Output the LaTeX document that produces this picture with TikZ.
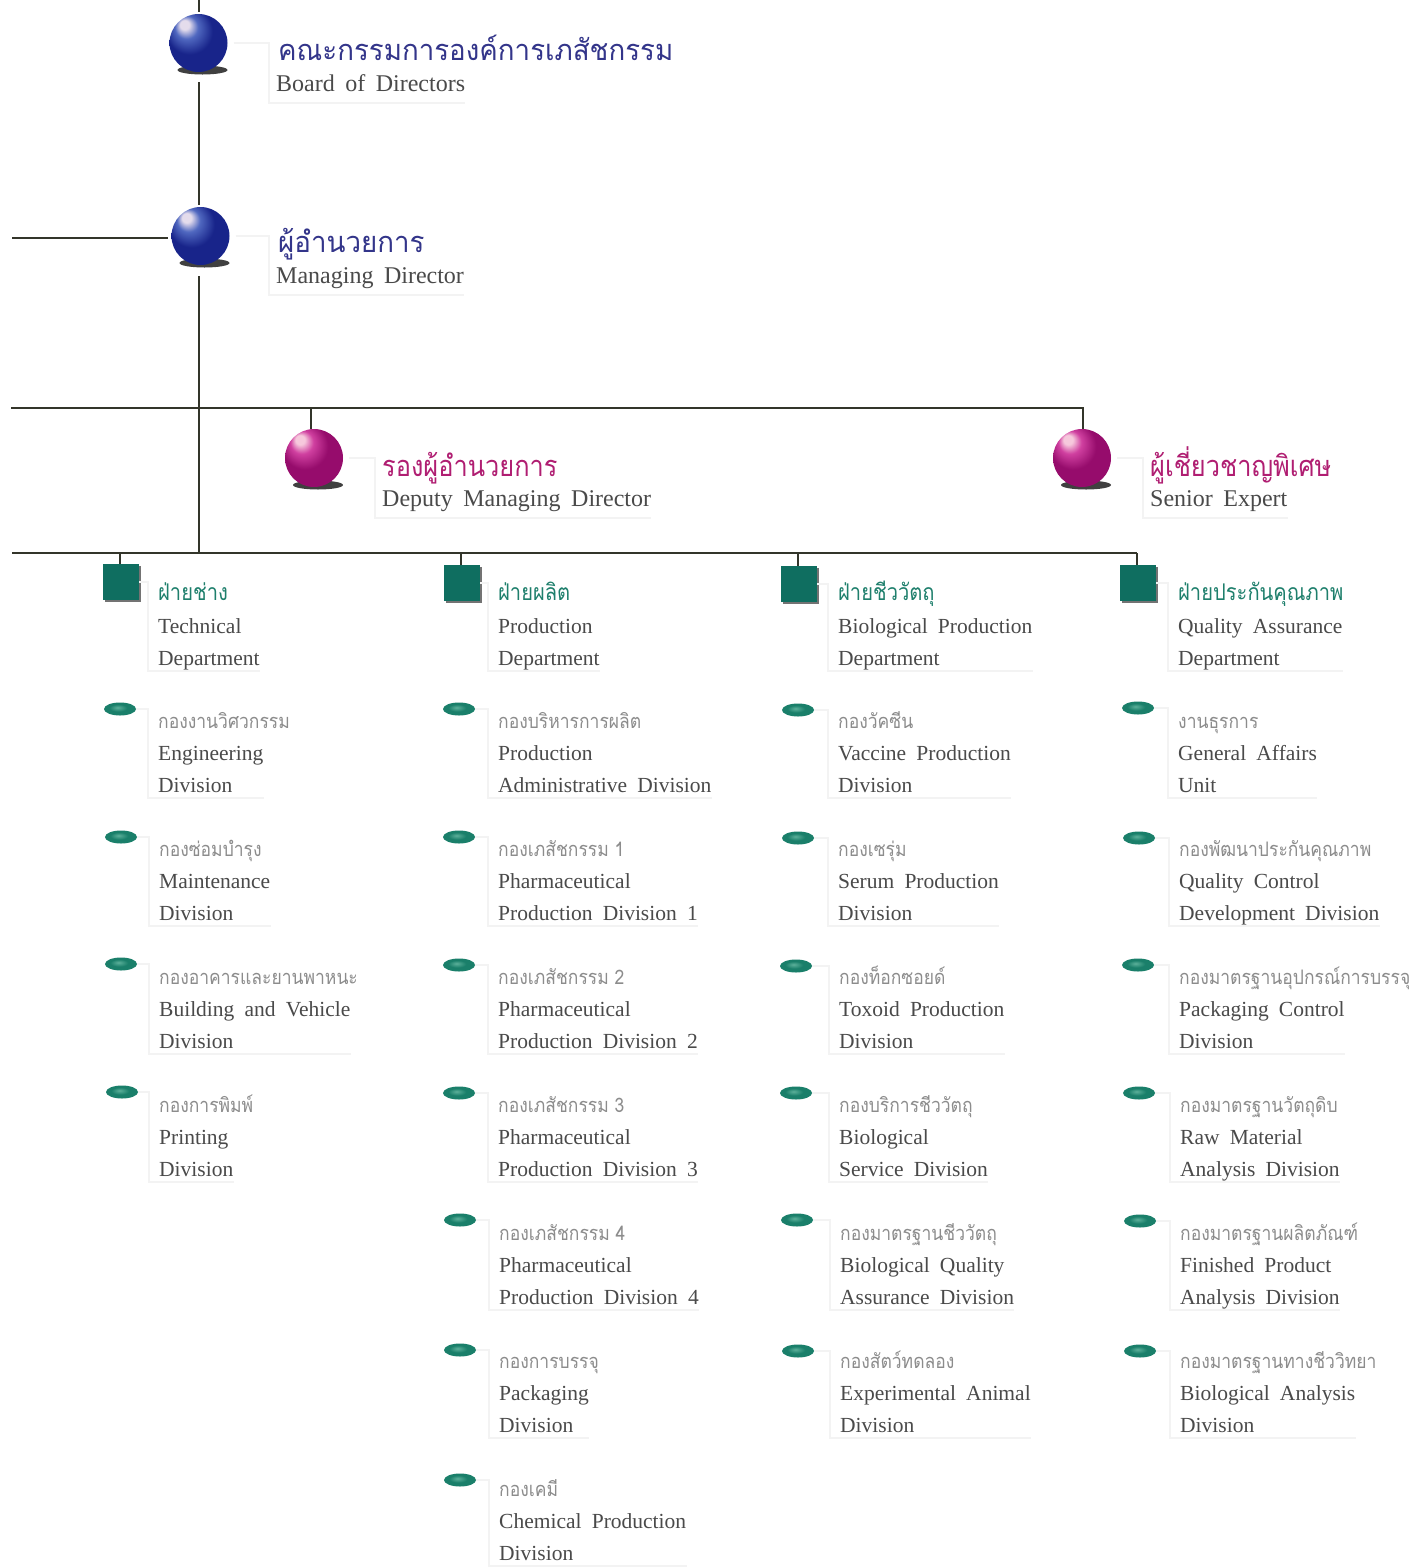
\documentclass[tikz,border=0pt]{standalone}
\usepackage{fontspec}
\setmainfont[WordSpace=1.9]{Liberation Serif}
\newfontfamily\headen[WordSpace=1.75]{Liberation Serif}
\newfontfamily\thaifont[Script=Thai,FakeStretch=0.875]{Loma}
\newfontfamily\thaiwide[Script=Thai,FakeStretch=0.955]{Loma}
\usetikzlibrary{fit,calc,shapes.geometric}
\definecolor{navy}{HTML}{18248A}
\definecolor{navytext}{HTML}{33358A}
\definecolor{plum}{HTML}{960C6C}
\definecolor{plumtext}{HTML}{B01E72}
\definecolor{tealm}{HTML}{0F6E60}
\definecolor{tealtext}{HTML}{1E7F6C}
\definecolor{grayth}{HTML}{8C8C8C}
\definecolor{grayen}{HTML}{4A4A4A}
\definecolor{faint}{HTML}{F3F3F3}
\definecolor{linec}{HTML}{33352A}
\definecolor{navyhi}{HTML}{E4DCEC}
\definecolor{navymid}{HTML}{5068C0}
\definecolor{navydark}{HTML}{0A1250}
\definecolor{plumhi}{HTML}{F6C8DC}
\definecolor{plummid}{HTML}{D040A0}
\definecolor{plumdark}{HTML}{4E0638}
\definecolor{ovalhi}{HTML}{5CB09A}
\definecolor{ovalmid}{HTML}{1A7F6A}
\definecolor{ovaldark}{HTML}{0A4F45}
\pgfdeclareradialshading{navyball}{\pgfpoint{-13bp}{17bp}}{color(0bp)=(navyhi); color(4bp)=(navyhi); color(10bp)=(navymid); color(20bp)=(navy); color(36bp)=(navy); color(50bp)=(navydark)}
\pgfdeclareradialshading{plumball}{\pgfpoint{-13bp}{17bp}}{color(0bp)=(plumhi); color(4bp)=(plumhi); color(10bp)=(plummid); color(20bp)=(plum); color(36bp)=(plum); color(50bp)=(plumdark)}
\pgfdeclareradialshading{ovalball}{\pgfpoint{-4bp}{6bp}}{color(0bp)=(ovalhi); color(14bp)=(ovalmid); color(30bp)=(ovalmid); color(50bp)=(ovaldark)}
\tikzset{
  x=1pt,y=-1pt,
  conn/.style={draw=linec,line width=2.6pt},
  bracket/.style={draw=faint,line width=1.6pt},
  en/.style={anchor=base west,inner sep=0pt,text=grayen,font=\fontsize{21.5}{21.5}\selectfont},
  enhead/.style={anchor=base west,inner sep=0pt,text=grayen,font=\fontsize{24}{24}\headen},
  thnavy/.style={anchor=base west,inner sep=0pt,text=navytext,font=\fontsize{29}{29}\thaiwide},
  thplum/.style={anchor=base west,inner sep=0pt,text=plumtext,font=\fontsize{29}{29}\thaifont},
  thdept/.style={anchor=base west,inner sep=0pt,text=tealtext,font=\fontsize{23}{23}\thaifont},
  thdiv/.style={anchor=base west,inner sep=0pt,text=grayth,font=\fontsize{20}{20}\thaifont},
  ballnode/.style={circle,minimum size=58pt,inner sep=0pt,outer sep=0pt,shading=#1},
  sq/.style={rectangle,minimum size=36pt,inner sep=0pt,outer sep=0pt,fill=tealm},
  oval/.style={ellipse,minimum width=32pt,minimum height=13pt,inner sep=0pt,shading=ovalball}
}
% name, ball x, ball y, shading
\newcommand{\bigball}[4]{%
  \fill[black!75] (#2+4,#3+27) ellipse (25 and 4.5);
  \node[ballnode=#4] (#1) at (#2,#3) {};
}
% name, thai style, thai baseline x, thai baseline y, thai, english x, english baseline y, english
\newcommand{\headtext}[8]{%
  \node[#2] (#1-th) at (#3,#4) {#5};
  \node[enhead] (#1-en) at (#6,#7) {#8};
  \coordinate (#1-c) at (#6-7,#7+12);
  \draw[bracket] ([xshift=6pt]#1.east) -- (#1.east -| #1-c) -- (#1-c) -- (#1-c -| #1-en.east);
}
% name, kind, marker x, marker y, text x, thai baseline, thai, line 1, line 2
\newcommand{\entry}[9]{%
  \ifx#2s
    \fill[black!55] (#3-16,#4-16) rectangle (#3+20,#4+20);
    \node[sq] (#1) at (#3,#4) {};
    \node[thdept] (#1-th) at (#5,#6) {#7};
  \else
    \node[oval] (#1) at (#3,#4) {};
    \node[thdiv] (#1-th) at (#5,#6+1) {#7};
  \fi
  \node[en] (#1-a) at (#5,#6+33) {#8};
  \node[en] (#1-b) at (#5,#6+65) {#9};
  \node[fit=(#1-a)(#1-b),inner sep=0pt] (#1-f) {};
  \coordinate (#1-c) at (#5-10,#6+71);
  \draw[bracket] (#1.east) -- (#1.east -| #1-c) -- (#1-c) -- (#1-c -| #1-f.east);
}
\begin{document}
\begin{tikzpicture}
\useasboundingbox (0,0) rectangle (1411,1567);
\fill[white] (0,0) rectangle (1411,1567);
% free ends
\coordinate (topend) at (199,0);
\coordinate (leftm) at (12,238);
\coordinate (leftd) at (11,408);
\coordinate (rightd) at (1084,408);
\coordinate (leftp) at (12,553);
\coordinate (rightp) at (1137,553);
\coordinate (juncp) at (199,553);
\coordinate (tickdm) at (311,408);
\coordinate (tickse) at (1083,408);
\coordinate (tickA) at (120,553);
\coordinate (tickB) at (461,553);
\coordinate (tickC) at (798,553);
\coordinate (tickD) at (1137,553);
% balls
\bigball{bod}{198.5}{43}{navyball}
\bigball{md}{200.5}{236}{navyball}
\bigball{dmd}{314}{458}{plumball}
\bigball{se}{1082}{458}{plumball}
% heads
\headtext{bod}{thnavy}{278}{60}{คณะกรรมการองค์การเภสัชกรรม}{276}{91}{Board of Directors}
\headtext{md}{thnavy}{278}{252}{ผู้อำนวยการ}{276}{283}{Managing Director}
\headtext{dmd}{thplum}{382}{476}{รองผู้อำนวยการ}{382}{506}{Deputy Managing Director}
\headtext{se}{thplum}{1150}{476}{ผู้เชี่ยวชาญพิเศษ}{1150}{506}{Senior Expert}
% departments and divisions
\entry{a0}{s}{121}{582}{158}{600}{ฝ่ายช่าง}{Technical}{Department}
\entry{a1}{o}{120}{709}{158}{727}{กองงานวิศวกรรม}{Engineering}{Division}
\entry{a2}{o}{121}{837}{159}{855}{กองซ่อมบำรุง}{Maintenance}{Division}
\entry{a3}{o}{121}{964}{159}{983}{กองอาคารและยานพาหนะ}{Building and Vehicle}{Division}
\entry{a4}{o}{122}{1092}{159}{1111}{กองการพิมพ์}{Printing}{Division}
\entry{b0}{s}{462}{583}{498}{600}{ฝ่ายผลิต}{Production}{Department}
\entry{b1}{o}{459}{709}{498}{727}{กองบริหารการผลิต}{Production}{Administrative Division}
\entry{b2}{o}{459}{837}{498}{855}{กองเภสัชกรรม 1}{Pharmaceutical}{Production Division 1}
\entry{b3}{o}{459}{965}{498}{983}{กองเภสัชกรรม 2}{Pharmaceutical}{Production Division 2}
\entry{b4}{o}{459}{1093}{498}{1111}{กองเภสัชกรรม 3}{Pharmaceutical}{Production Division 3}
\entry{b5}{o}{460}{1220}{499}{1239}{กองเภสัชกรรม 4}{Pharmaceutical}{Production Division 4}
\entry{b6}{o}{460}{1350}{499}{1367}{กองการบรรจุ}{Packaging}{Division}
\entry{b7}{o}{460}{1480}{499}{1495}{กองเคมี}{Chemical Production}{Division}
\entry{c0}{s}{799}{584}{838}{600}{ฝ่ายชีววัตถุ}{Biological Production}{Department}
\entry{c1}{o}{798}{710}{838}{727}{กองวัคซีน}{Vaccine Production}{Division}
\entry{c2}{o}{798}{838}{838}{855}{กองเซรุ่ม}{Serum Production}{Division}
\entry{c3}{o}{796}{966}{839}{983}{กองท็อกซอยด์}{Toxoid Production}{Division}
\entry{c4}{o}{796}{1093}{839}{1111}{กองบริการชีววัตถุ}{Biological}{Service Division}
\entry{c5}{o}{797}{1220}{840}{1239}{กองมาตรฐานชีววัตถุ}{Biological Quality}{Assurance Division}
\entry{c6}{o}{798}{1351}{840}{1367}{กองสัตว์ทดลอง}{Experimental Animal}{Division}
\entry{d0}{s}{1138}{583}{1178}{600}{ฝ่ายประกันคุณภาพ}{Quality Assurance}{Department}
\entry{d1}{o}{1138}{708}{1178}{727}{งานธุรการ}{General Affairs}{Unit}
\entry{d2}{o}{1139}{838}{1179}{855}{กองพัฒนาประกันคุณภาพ}{Quality Control}{Development Division}
\entry{d3}{o}{1138}{965}{1179}{983}{กองมาตรฐานอุปกรณ์การบรรจุ}{Packaging Control}{Division}
\entry{d4}{o}{1139}{1093}{1180}{1111}{กองมาตรฐานวัตถุดิบ}{Raw Material}{Analysis Division}
\entry{d5}{o}{1140}{1221}{1180}{1239}{กองมาตรฐานผลิตภัณฑ์}{Finished Product}{Analysis Division}
\entry{d6}{o}{1140}{1351}{1180}{1367}{กองมาตรฐานทางชีววิทยา}{Biological Analysis}{Division}
% connectors
\draw[conn,shorten >=2pt] (topend) -- (topend |- bod.north);
\draw[conn,shorten <=10pt,shorten >=2pt] (topend |- bod.south) -- (topend |- md.north);
\draw[conn,shorten <=11pt] (topend |- md.south) -- (juncp);
\draw[conn,shorten >=4pt] (leftm) -- (leftm -| md.west);
\draw[conn] (leftd) -- (rightd);
\draw[conn] (leftp) -- (rightp);
\draw[conn] (tickdm) -- (tickdm |- dmd.north);
\draw[conn] (tickse) -- (tickse |- se.north);
\draw[conn] (tickA) -- (tickA |- a0.north);
\draw[conn] (tickB) -- (tickB |- b0.north);
\draw[conn] (tickC) -- (tickC |- c0.north);
\draw[conn] (tickD) -- (tickD |- d0.north);
\end{tikzpicture}
\end{document}
